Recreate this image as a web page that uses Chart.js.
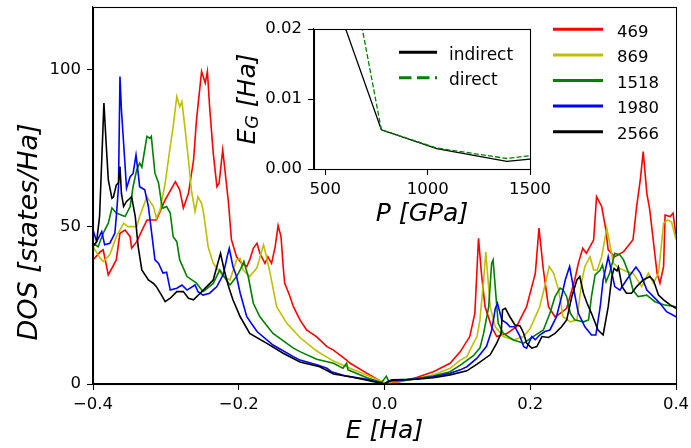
<!DOCTYPE html>
<html><head><meta charset="utf-8">
<script src="https://cdn.jsdelivr.net/npm/chart.js@4.4.1/dist/chart.umd.min.js"></script>
<style>
html,body{margin:0;padding:0;background:#fff;}
#wrap{position:relative;width:691px;height:448px;overflow:hidden;}
canvas{position:absolute;left:0;top:0;}
</style></head><body>
<div id="wrap"><canvas id="main" width="691" height="448"></canvas><canvas id="inset" width="691" height="448"></canvas></div>
<script>
// ---------- DATA (main panel: DOS vs E) ----------
const e469 = [-0.400,-0.390,-0.386,-0.379,-0.368,-0.363,-0.356,-0.349,-0.347,-0.340,-0.326,-0.313,-0.301,-0.287,-0.281,-0.276,-0.269,-0.262,-0.258,-0.251,-0.246,-0.243,-0.240,-0.235,-0.230,-0.227,-0.222,-0.219,-0.214,-0.210,-0.203,-0.196,-0.189,-0.185,-0.180,-0.175,-0.171,-0.164,-0.160,-0.155,-0.150,-0.146,-0.142,-0.139,-0.137,-0.130,-0.125,-0.116,-0.107,-0.093,-0.079,-0.070,-0.052,-0.047,-0.024,-0.004,0.000,0.021,0.044,0.067,0.090,0.104,0.117,0.124,0.129,0.133,0.138,0.147,0.154,0.168,0.181,0.195,0.207,0.212,0.218,0.225,0.234,0.241,0.250,0.261,0.266,0.272,0.277,0.282,0.287,0.291,0.298,0.303,0.307,0.316,0.328,0.341,0.346,0.351,0.355,0.360,0.364,0.374,0.378,0.383,0.385,0.392,0.396,0.400];
const dos469 = [39.5,42.1,42.7,34.7,39.5,48.0,49.0,46.9,43.2,45.3,52.2,52.2,58.6,64.4,61.8,56.0,60.7,71.3,84.0,99.5,95.8,99.5,88.3,73.5,62.8,63.9,74.5,68.2,57.5,45.9,40.5,38.4,37.4,39.5,43.2,44.8,41.6,38.4,40.5,38.4,43.7,50.4,46.9,37.4,32.1,28.0,24.6,20.4,17.2,15.0,11.9,10.8,7.6,6.6,3.4,0.7,0.2,0.7,2.1,3.9,6.6,10.3,15.1,22.5,46.4,35.3,24.6,18.2,15.1,16.1,18.2,24.6,35.3,49.6,36.3,24.6,21.4,22.5,24.1,33.1,38.4,43.2,41.6,43.7,45.9,59.6,56.5,50.1,42.7,40.5,42.1,45.9,56.5,65.0,74.0,60.7,55.4,35.3,32.1,37.4,53.8,53.3,54.4,47.0];

const e869 = [-0.400,-0.390,-0.386,-0.377,-0.368,-0.358,-0.352,-0.340,-0.336,-0.326,-0.317,-0.313,-0.308,-0.301,-0.294,-0.290,-0.285,-0.281,-0.278,-0.274,-0.269,-0.265,-0.260,-0.256,-0.251,-0.248,-0.242,-0.235,-0.221,-0.212,-0.203,-0.198,-0.194,-0.185,-0.175,-0.166,-0.162,-0.157,-0.148,-0.134,-0.116,-0.093,-0.070,-0.047,-0.024,0.000,0.021,0.044,0.067,0.090,0.104,0.113,0.122,0.127,0.131,0.136,0.139,0.145,0.152,0.163,0.177,0.191,0.200,0.213,0.222,0.226,0.232,0.239,0.245,0.255,0.264,0.271,0.275,0.282,0.287,0.292,0.298,0.305,0.309,0.314,0.323,0.332,0.341,0.353,0.362,0.369,0.376,0.383,0.389,0.394,0.400];
const dos869 = [43.7,40.0,39.0,41.1,46.9,51.2,50.1,50.1,53.3,59.6,56.5,52.8,55.4,63.9,75.6,81.9,91.5,88.3,89.9,81.9,71.3,61.8,54.9,59.6,57.5,54.0,43.7,38.4,34.2,33.1,39.5,40.0,36.3,34.2,37.0,44.3,40.5,35.3,24.6,19.3,14.8,10.5,7.3,5.0,2.8,0.5,0.8,1.6,2.9,5.0,7.6,8.7,13.0,15.1,20.4,33.1,42.1,24.6,18.2,15.1,14.0,15.1,17.7,24.6,33.1,37.4,35.3,29.9,21.4,19.8,20.4,33.1,37.4,40.5,36.3,36.3,40.5,49.6,44.8,38.4,36.8,35.8,35.3,31.0,35.3,32.1,35.3,51.2,52.2,51.5,46.0];

const e1518 = [-0.400,-0.393,-0.386,-0.379,-0.374,-0.368,-0.356,-0.349,-0.345,-0.340,-0.336,-0.333,-0.326,-0.322,-0.320,-0.315,-0.310,-0.306,-0.304,-0.299,-0.294,-0.290,-0.285,-0.281,-0.271,-0.258,-0.249,-0.235,-0.226,-0.217,-0.212,-0.203,-0.197,-0.193,-0.187,-0.180,-0.171,-0.153,-0.125,-0.116,-0.093,-0.070,-0.057,-0.052,-0.050,-0.024,-0.004,0.0025,0.0055,0.021,0.044,0.067,0.090,0.104,0.122,0.131,0.136,0.143,0.147,0.149,0.153,0.156,0.163,0.177,0.191,0.204,0.218,0.227,0.234,0.241,0.245,0.250,0.255,0.261,0.273,0.280,0.284,0.289,0.296,0.299,0.304,0.309,0.316,0.323,0.328,0.335,0.341,0.348,0.360,0.371,0.383,0.400];
const dos1518 = [44.8,43.7,48.0,51.2,56.0,54.4,53.3,56.5,62.8,68.2,70.3,69.0,78.8,78.2,78.8,67.1,63.9,57.5,56.0,56.5,54.4,46.9,45.3,39.5,34.2,32.1,29.4,32.0,36.3,33.1,31.5,34.2,36.8,39.0,34.2,25.7,21.4,16.1,11.4,10.3,7.9,6.6,5.0,6.6,4.5,2.0,0.5,2.5,1.1,1.0,1.8,2.5,3.9,6.0,9.0,11.5,16.1,24.6,38.4,39.5,27.8,19.3,16.1,14.0,13.0,15.1,17.2,22.5,27.8,30.5,30.0,27.8,22.5,20.4,19.8,20.4,27.8,34.7,36.3,37.9,32.6,35.3,41.6,41.1,39.5,35.3,29.9,27.8,28.3,26.2,25.2,24.6];

const e1980 = [-0.400,-0.395,-0.388,-0.384,-0.377,-0.370,-0.368,-0.365,-0.363,-0.361,-0.358,-0.354,-0.349,-0.345,-0.341,-0.338,-0.336,-0.329,-0.324,-0.320,-0.315,-0.310,-0.304,-0.299,-0.294,-0.285,-0.278,-0.271,-0.260,-0.256,-0.249,-0.240,-0.230,-0.221,-0.216,-0.213,-0.208,-0.203,-0.198,-0.189,-0.175,-0.153,-0.125,-0.116,-0.093,-0.079,-0.073,-0.052,-0.024,0.000,0.006,0.044,0.067,0.090,0.104,0.113,0.127,0.140,0.147,0.152,0.155,0.161,0.168,0.172,0.179,0.186,0.191,0.195,0.202,0.207,0.213,0.220,0.227,0.236,0.243,0.248,0.254,0.259,0.266,0.275,0.284,0.290,0.296,0.300,0.307,0.312,0.316,0.323,0.332,0.345,0.351,0.360,0.369,0.378,0.387,0.400];
const dos1980 = [49.0,45.3,48.5,44.3,44.8,48.0,53.3,62.8,97.9,87.3,76.7,62.3,66.0,67.0,72.9,67.1,62.8,61.8,56.5,49.0,39.5,38.4,35.3,35.6,29.9,30.5,31.5,29.9,31.5,29.4,28.3,28.9,31.0,35.0,40.5,43.2,37.4,34.2,28.9,21.4,16.7,12.4,8.7,7.6,6.1,5.0,3.9,2.5,1.5,0.0,1.0,1.6,2.3,3.4,4.5,5.5,8.2,12.0,17.0,24.0,25.7,20.4,19.3,18.2,18.2,15.1,11.9,11.4,15.1,14.1,15.6,16.7,17.2,21.4,27.8,33.1,37.4,31.0,22.5,18.2,15.6,15.6,24.6,33.1,40.5,35.3,31.0,29.9,33.1,37.2,35.3,29.9,27.8,25.7,23.0,21.4];

const e2566 = [-0.400,-0.395,-0.391,-0.388,-0.385,-0.382,-0.379,-0.374,-0.372,-0.368,-0.365,-0.363,-0.361,-0.358,-0.354,-0.347,-0.342,-0.338,-0.333,-0.324,-0.317,-0.313,-0.306,-0.301,-0.294,-0.285,-0.276,-0.269,-0.262,-0.253,-0.244,-0.235,-0.230,-0.225,-0.220,-0.214,-0.208,-0.198,-0.185,-0.162,-0.139,-0.116,-0.089,-0.079,-0.070,-0.047,-0.024,0.000,0.010,0.044,0.067,0.090,0.113,0.127,0.145,0.154,0.160,0.162,0.166,0.172,0.179,0.186,0.191,0.195,0.202,0.209,0.216,0.225,0.234,0.243,0.250,0.257,0.264,0.268,0.273,0.278,0.284,0.293,0.300,0.307,0.312,0.315,0.319,0.321,0.326,0.332,0.339,0.346,0.355,0.364,0.369,0.376,0.383,0.392,0.400];
const dos2566 = [43.7,45.3,53.3,71.3,89.4,76.7,65.0,59.1,59.5,63.4,64.0,69.2,60.7,56.5,58.1,59.6,53.3,43.7,36.3,33.1,32.0,31.0,28.3,26.2,27.3,29.4,29.4,27.3,26.8,28.9,31.0,33.1,37.4,41.6,36.3,31.0,26.8,21.4,16.1,13.0,9.8,7.0,5.5,4.3,3.2,2.3,1.2,0.0,1.3,1.5,2.0,2.9,4.2,6.3,9.3,13.0,16.1,23.6,24.1,21.4,18.8,18.5,16.1,13.0,11.4,11.9,15.1,14.8,16.1,18.2,20.4,27.8,33.1,34.2,28.9,25.7,22.5,17.2,15.6,24.6,34.2,36.8,36.0,37.2,31.0,28.9,28.9,31.0,33.1,34.2,33.0,28.3,26.8,25.2,24.1];

const seriesLabels = ['469','869','1518','1980','2566'];
const xTickValues = [-0.4,-0.2,0.0,0.2,0.4];
const xTickLabels = ['\u22120.4','\u22120.2','0.0','0.2','0.4'];
const yTickValues = [0,50,100];
const yTickLabels = ['0','50','100'];
const xTitle = 'E [Ha]';
const yTitle = 'DOS [states/Ha]';

// ---------- DATA (inset: band gap vs pressure) ----------
const pressures = [469, 774, 1044, 1387, 1500];
const gapIndirect = [0.0308, 0.0056, 0.0029, 0.0011, 0.0014];
const gapDirect   = [0.0528, 0.0056, 0.0030, 0.0015, 0.0019];
const insetXTicks = [500, 1000, 1500];
const insetYTicks = [0, 0.01, 0.02];
const insetYTickLabels = ['0.00','0.01','0.02'];

// ---------- STYLE ----------
const FONT = "'DejaVu Sans', sans-serif";
Chart.defaults.font.family = FONT;
Chart.defaults.color = '#000';
const seriesColors = ['#ff0000','#bfbf00','#008000','#0000ff','#000000'];
const seriesE = [e469, e869, e1518, e1980, e2566];
const seriesD = [dos469, dos869, dos1518, dos1980, dos2566];

const datasets = seriesLabels.map((lab, i) => ({
  label: lab,
  data: seriesE[i].map((x, j) => ({x: x, y: seriesD[i][j]})),
  borderColor: seriesColors[i],
  backgroundColor: seriesColors[i],
  borderWidth: 1.6,
  pointRadius: 0,
  tension: 0,
  fill: false,
  order: seriesLabels.length - i
}));

const framePlugin = {
  id: 'frame',
  beforeDatasetsDraw(chart, args, opts) {
    if (opts.white) {
      const a = chart.chartArea, c = chart.ctx;
      c.save(); c.fillStyle = '#fff'; c.fillRect(a.left, a.top, a.right - a.left, a.bottom - a.top); c.restore();
    }
  },
  afterDraw(chart) {
    const a = chart.chartArea, c = chart.ctx;
    c.save(); c.strokeStyle = '#000'; c.lineWidth = 1.1;
    c.strokeRect(Math.round(a.left) + 0.5, Math.round(a.top) + 0.5, Math.round(a.right - a.left), Math.round(a.bottom - a.top));
    c.restore();
  }
};

const mainLegend = {
  id: 'mainLegend',
  afterDraw(chart) {
    const c = chart.ctx;
    c.save();
    chart.data.datasets.forEach((ds, i) => {
      const y = 29.3 + i * 25.6;
      c.strokeStyle = ds.borderColor; c.lineWidth = 3;
      c.beginPath(); c.moveTo(553, y); c.lineTo(603, y); c.stroke();
      c.fillStyle = '#000'; c.font = '16.5px ' + FONT; c.textBaseline = 'alphabetic'; c.textAlign = 'left';
      c.fillText(ds.label, 617, y + 7.3);
    });
    // y-axis title
    c.translate(30, 232); c.rotate(-Math.PI / 2);
    c.font = 'italic 27px ' + FONT; c.textAlign = 'center'; c.textBaseline = 'middle';
    c.fillText(yTitle, 0, 0);
    c.restore();
  }
};

new Chart(document.getElementById('main'), {
  type: 'line',
  data: {datasets: datasets},
  options: {
    responsive: false, animation: false, devicePixelRatio: 1,
    parsing: false, normalized: true,
    layout: {padding: {left: 0, top: 7, right: 15, bottom: 0}},
    plugins: {legend: {display: false}, tooltip: {enabled: false}, frame: {white: false}},
    scales: {
      x: {
        type: 'linear', min: -0.4, max: 0.4,
        afterBuildTicks: s => { s.ticks = xTickValues.map(v => ({value: v})); },
        afterFit: s => { s.height = 64; s.paddingLeft = 0; s.paddingRight = 0; },
        ticks: {callback: (v, i) => xTickLabels[i], font: {size: 16.5}, color: '#000', padding: 5, maxRotation: 0, autoSkip: false},
        grid: {drawOnChartArea: false, drawTicks: true, tickLength: 6, tickColor: '#000', tickWidth: 1.1},
        border: {display: true, color: '#000', width: 1.1},
        title: {display: true, text: xTitle, font: {size: 25, style: 'italic'}, color: '#000', padding: {top: 0, bottom: 2}}
      },
      y: {
        type: 'linear', min: 0, max: 120,
        afterBuildTicks: s => { s.ticks = yTickValues.map(v => ({value: v})); },
        afterFit: s => { s.width = 93; s.paddingTop = 0; s.paddingBottom = 0; },
        ticks: {callback: (v, i) => yTickLabels[i], font: {size: 16.5}, color: '#000', padding: 6, autoSkip: false},
        grid: {drawOnChartArea: false, drawTicks: true, tickLength: 6, tickColor: '#000', tickWidth: 1.1},
        border: {display: true, color: '#000', width: 1.1}
      }
    }
  },
  plugins: [framePlugin, mainLegend]
});

// ---------- INSET ----------
const insetLegend = {
  id: 'insetLegend',
  afterDraw(chart) {
    const c = chart.ctx;
    c.save();
    c.font = '17px ' + FONT; c.fillStyle = '#000'; c.textAlign = 'left'; c.textBaseline = 'alphabetic';
    chart.data.datasets.forEach((ds, i) => {
      const y = 52.3 + i * 25.4;
      c.strokeStyle = ds.borderColor; c.lineWidth = 3;
      c.setLineDash(ds.borderDash && ds.borderDash.length ? [12.5, 5.5] : []);
      c.beginPath(); c.moveTo(399, y); c.lineTo(437, y); c.stroke();
      c.setLineDash([]);
      c.fillText(ds.label, 449, y + 7.2);
    });
    // y-axis label E_G [Ha]
    c.translate(248, 99); c.rotate(-Math.PI / 2);
    const big = 'italic 25px ' + FONT, small = 'italic 17.5px ' + FONT;
    c.font = big; const wE = c.measureText('E').width; const wR = c.measureText(' [Ha]').width;
    c.font = small; const wG = c.measureText('G').width;
    let x0 = -(wE + wG + wR) / 2;
    c.textBaseline = 'middle';
    c.font = big; c.fillText('E', x0, 0);
    c.font = small; c.fillText('G', x0 + wE, 5);
    c.font = big; c.fillText(' [Ha]', x0 + wE + wG, 0);
    c.restore();
  }
};

new Chart(document.getElementById('inset'), {
  type: 'line',
  data: {datasets: [
    {label: 'indirect', data: pressures.map((p, i) => ({x: p, y: gapIndirect[i]})), borderColor: '#000000', borderWidth: 1.3, pointRadius: 0, tension: 0, fill: false, order: 2},
    {label: 'direct', data: pressures.map((p, i) => ({x: p, y: gapDirect[i]})), borderColor: '#008000', borderWidth: 1.3, borderDash: [5, 2.2], pointRadius: 0, tension: 0, fill: false, order: 1}
  ]},
  options: {
    responsive: false, animation: false, devicePixelRatio: 1, parsing: false,
    layout: {padding: {left: 244, top: 29, right: 161, bottom: 217}},
    plugins: {legend: {display: false}, tooltip: {enabled: false}, frame: {white: true}},
    scales: {
      x: {
        type: 'linear', min: 445, max: 1500,
        afterBuildTicks: s => { s.ticks = insetXTicks.map(v => ({value: v})); },
        afterFit: s => { s.height = 62; s.paddingLeft = 0; s.paddingRight = 0; },
        ticks: {callback: (v) => String(v), font: {size: 16.5}, color: '#000', padding: 5, maxRotation: 0, autoSkip: false},
        grid: {drawOnChartArea: false, drawTicks: true, tickLength: 6, tickColor: '#000', tickWidth: 1.1},
        border: {display: true, color: '#000', width: 1.1},
        title: {display: true, text: 'P [GPa]', font: {size: 25, style: 'italic'}, color: '#000', padding: {top: 0, bottom: 2}}
      },
      y: {
        type: 'linear', min: 0, max: 0.02,
        afterBuildTicks: s => { s.ticks = insetYTicks.map(v => ({value: v})); },
        afterFit: s => { s.width = 70; s.paddingTop = 0; s.paddingBottom = 0; },
        ticks: {callback: (v, i) => insetYTickLabels[i], font: {size: 16.5}, color: '#000', padding: 6, autoSkip: false},
        grid: {drawOnChartArea: false, drawTicks: true, tickLength: 6, tickColor: '#000', tickWidth: 1.1},
        border: {display: true, color: '#000', width: 1.1}
      }
    }
  },
  plugins: [framePlugin, insetLegend]
});
</script></body></html>
